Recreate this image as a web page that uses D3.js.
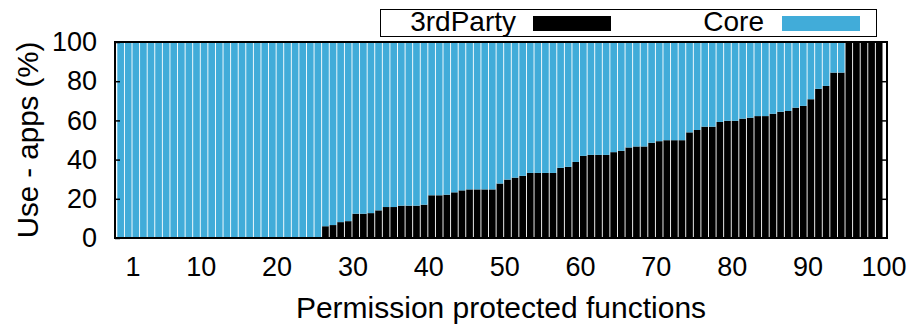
<!DOCTYPE html>
<html>
<head>
<meta charset="utf-8">
<script src="https://cdn.jsdelivr.net/npm/d3@7"></script>
<style>
  body { margin: 0; background: #fff; }
  text { font-family: "Liberation Sans", Arial, Helvetica, sans-serif; fill: #000; }
</style>
</head>
<body>
<figure id="bar" style="margin:0"></figure>
<script>
// share of apps using each permission protected function (%), sorted
const thirdParty = [
  0, 0, 0, 0, 0, 0, 0, 0, 0, 0, 0, 0, 0, 0, 0, 0, 0, 0, 0, 0, 0, 0, 0, 0, 0, 0, 0,
  6, 6.6, 8.1, 8.6, 12.4, 12.4, 12.7, 14.1, 15.8, 15.8, 16.5, 16.5, 16.5, 17.0,
  21.8, 21.8, 22.1, 23.3, 24.3, 24.8, 24.8, 24.8, 24.8, 27.8, 29.8, 30.8, 31.7,
  33.2, 33.2, 33.2, 33.2, 35.8, 36.3, 38.8, 41.9, 42.4,
  42.4, 42.4, 43.8, 44.5, 46.2, 46.7, 46.7, 48.6, 49.4, 49.9, 49.9, 49.9, 53.9,
  55.1, 56.8, 56.8, 59.2, 59.8, 59.8, 60.9, 61.4, 62.2, 62.2, 63.4, 64.4, 64.8,
  66.5, 67.4, 70.8, 76.1, 77.6, 84.4, 84.4,
  100, 100, 100, 100, 100
];
const core = thirdParty.map(v => 100 - v);
const functions = thirdParty.map((d, i) => i);
const xTickLabels = [1, 10, 20, 30, 40, 50, 60, 70, 80, 90, 100];
const yTicks = [0, 20, 40, 60, 80, 100];
const seriesNames = ["3rdParty", "Core"];
const colors = ["#000000", "#41acd9"];

const width = 908, height = 326;
const plotLeft = 115, plotRight = 887, plotTop = 42, plotBottom = 238;

const svg = d3.select("figure#bar")
  .append("svg")
  .attr("width", width)
  .attr("height", height);

// x: one band per function
const x = d3.scaleBand()
  .domain(functions)
  .range([plotLeft + 2.3, plotRight - 4.5])
  .paddingInner(0.12)
  .paddingOuter(0);

const y = d3.scaleLinear()
  .domain([0, 100])
  .range([plotBottom, plotTop]);

// stacked bars: 3rdParty at the bottom, Core on top
const rows = functions.map(i => ({ i: i, third: thirdParty[i], core: core[i] }));
const stack = d3.stack().keys(["third", "core"])(rows);

svg.append("g")
  .selectAll("g")
  .data(stack)
  .enter()
  .append("g")
  .attr("fill", (d, k) => colors[k])
  .selectAll("rect")
  .data(d => d)
  .enter()
  .append("rect")
  .attr("x", d => x(d.data.i))
  .attr("y", d => y(d[1]))
  .attr("width", x.bandwidth())
  .attr("height", d => y(d[0]) - y(d[1]));

// y axis, ticks pointing inwards
svg.append("g")
  .attr("transform", "translate(" + plotLeft + ",0)")
  .call(d3.axisLeft(y).tickValues(yTicks).tickSize(-5).tickPadding(18))
  .call(g => g.select(".domain").remove())
  .call(g => g.selectAll("line").attr("stroke", "#000").attr("stroke-width", 1.5))
  .call(g => g.selectAll("text").style("font-size", "27px").attr("font-family", null));

// mirrored ticks on the right
svg.append("g")
  .attr("transform", "translate(" + plotRight + ",0)")
  .call(d3.axisRight(y).tickValues(yTicks.slice(1, 5)).tickSize(-5).tickFormat(""))
  .call(g => g.select(".domain").remove())
  .call(g => g.selectAll("line").attr("stroke", "#000").attr("stroke-width", 1.5));

// x tick labels (label v sits at the boundary after bar v)
const xPos = d3.scaleLinear()
  .domain([0, functions.length])
  .range([x(0), x(0) + x.step() * functions.length]);

svg.append("g")
  .attr("transform", "translate(0," + plotBottom + ")")
  .call(d3.axisBottom(xPos).tickValues(xTickLabels.map(v => v + 1))
    .tickFormat((d, i) => xTickLabels[i]).tickSize(0).tickPadding(19))
  .call(g => g.select(".domain").remove())
  .call(g => g.selectAll("text").style("font-size", "27px").attr("font-family", null));

// frame
svg.append("rect")
  .attr("x", plotLeft)
  .attr("y", plotTop)
  .attr("width", plotRight - plotLeft)
  .attr("height", plotBottom - plotTop)
  .attr("fill", "none")
  .attr("stroke", "#000")
  .attr("stroke-width", 2);

// axis titles
svg.append("text")
  .attr("x", (plotLeft + plotRight) / 2)
  .attr("y", 318)
  .attr("text-anchor", "middle")
  .style("font-size", "30px")
  .text("Permission protected functions");

svg.append("text")
  .attr("transform", "translate(37.5," + ((plotTop + plotBottom) / 2) + ")rotate(-90)")
  .attr("text-anchor", "middle")
  .style("font-size", "29.5px")
  .text("Use - apps (%)");

// legend
const legend = svg.append("g");
legend.append("rect")
  .attr("x", 380.5)
  .attr("y", 9.5)
  .attr("width", 496)
  .attr("height", 27)
  .attr("fill", "#fff")
  .attr("stroke", "#000")
  .attr("stroke-width", 1);

const legendTextEnd = [516, 764];
const legendSwatch = [533, 782];
seriesNames.forEach((name, k) => {
  legend.append("text")
    .attr("x", legendTextEnd[k])
    .attr("y", 31)
    .attr("text-anchor", "end")
    .style("font-size", "28px")
    .text(name);
  legend.append("rect")
    .attr("x", legendSwatch[k])
    .attr("y", 16)
    .attr("width", 78)
    .attr("height", 15)
    .attr("fill", colors[k]);
});
</script>
</body>
</html>
